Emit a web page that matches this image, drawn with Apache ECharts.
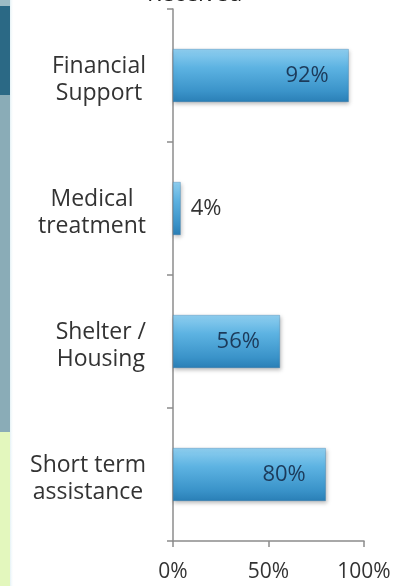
<!DOCTYPE html>
<html>
<head>
<meta charset="utf-8">
<script src="https://cdn.jsdelivr.net/npm/echarts@6/dist/echarts.min.js"></script>
<style>
html,body{margin:0;padding:0;background:#fff;}
#chart{width:406px;height:586px;}
</style>
</head>
<body>
<div id="chart"></div>
<script>
const categories = ['Financial\nSupport', 'Medical\ntreatment', 'Shelter /\nHousing', 'Short term\nassistance'];
const values = [92, 4, 56, 80];
const xTicks = [0, 50, 100];
const titleText = 'Received';

const FONT = 'Open Sans';
const chart = echarts.init(document.getElementById('chart'), null, {renderer: 'canvas'});

const barColor = new echarts.graphic.LinearGradient(0, 0, 0, 1, [
  {offset: 0, color: '#8fcff0'},
  {offset: 0.35, color: '#5db3e2'},
  {offset: 0.8, color: '#3a93c9'},
  {offset: 1, color: '#2a7fb6'}
]);

const option = {
  backgroundColor: '#ffffff',
  animation: false,
  title: {
    text: titleText,
    left: 142,
    top: -22,
    textStyle: {fontFamily: FONT, fontSize: 23, fontWeight: 'normal', color: '#222'}
  },
  graphic: [
    {type: 'rect', shape: {x: 0, y: 0, width: 10, height: 6}, style: {fill: '#9dbcc5'}},
    {type: 'rect', shape: {x: 0, y: 6, width: 10, height: 89}, style: {fill: '#2b6985'}},
    {type: 'rect', shape: {x: 0, y: 95, width: 10, height: 337}, style: {fill: '#8aacb7'}},
    {type: 'rect', shape: {x: 0, y: 432, width: 10, height: 154}, style: {fill: '#e3f7bd'}},
    {type: 'rect', shape: {x: 10, y: 0, width: 4, height: 586},
      style: {fill: new echarts.graphic.LinearGradient(0, 0, 1, 0, [
        {offset: 0, color: 'rgba(225,240,245,0.9)'}, {offset: 1, color: 'rgba(255,255,255,0)'}])}}
  ],
  grid: {left: 173, right: 42, top: 9, bottom: 45, containLabel: false},
  xAxis: {
    type: 'value',
    min: 0, max: 100, interval: 50,
    axisLine: {show: true, lineStyle: {color: '#8c8c8c', width: 1.5}},
    axisTick: {show: true, length: 6, lineStyle: {color: '#8c8c8c', width: 1.5}},
    splitLine: {show: false},
    axisLabel: {
      margin: 21,
      fontFamily: FONT, fontSize: 21, color: '#333',
      formatter: v => xTicks.includes(v) ? v + '%' : ''
    }
  },
  yAxis: {
    type: 'category',
    data: categories,
    inverse: true,
    axisLine: {show: true, lineStyle: {color: '#8c8c8c', width: 1.5}},
    axisTick: {show: true, length: 6, inside: false, lineStyle: {color: '#8c8c8c', width: 1.5}},
    axisLabel: {
      margin: 27,
      align: 'right',
      padding: [8, 0, 0, 0],
      fontFamily: FONT, fontSize: 23, color: '#333', lineHeight: 27,
      formatter: v => v.split('\n').map(s => '{c|' + s + '}').join('\n'),
      rich: {c: {align: 'center', fontFamily: FONT, fontSize: 23, color: '#333', lineHeight: 27}}
    }
  },
  series: [{
    type: 'bar',
    data: values.map(v => ({
      value: v,
      label: v < 10
        ? {position: 'right', distance: 10, color: '#333'}
        : {position: 'insideRight', distance: 20, color: '#1c3a5a'}
    })),
    barWidth: 53,
    itemStyle: {
      color: barColor,
      borderColor: 'rgba(40,110,160,0.6)', borderWidth: 0.5,
      shadowColor: 'rgba(0,0,0,0.25)', shadowBlur: 4, shadowOffsetX: 1, shadowOffsetY: 2
    },
    label: {
      show: true,
      fontFamily: FONT, fontSize: 22,
      formatter: p => p.value + '%'
    }
  }]
};
chart.setOption(option);
</script>
</body>
</html>
